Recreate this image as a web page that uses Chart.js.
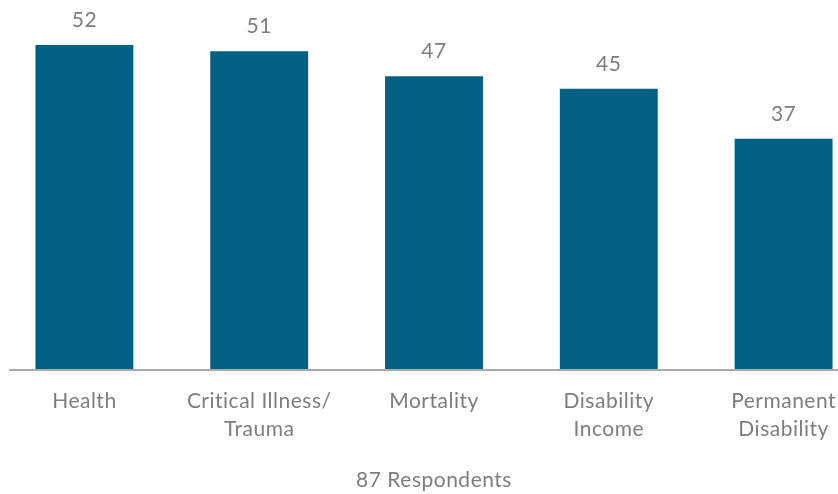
<!DOCTYPE html>
<html>
<head>
<meta charset="utf-8">
<script src="https://cdn.jsdelivr.net/npm/chart.js@4/dist/chart.umd.min.js"></script>
<style>
  html, body { margin: 0; padding: 0; background: #fff; overflow: hidden; }
  #wrap { position: absolute; left: -3px; top: 0; width: 874px; height: 494px; }
</style>
</head>
<body>
<div id="wrap"><canvas id="c"></canvas></div>
<script>
const categories = [["Health"], ["Critical Illness/", "Trauma"], ["Mortality"], ["Disability", "Income"], ["Permanent", "Disability"]];
const values = [52, 51, 47, 45, 37];
const axisTitle = "87 Respondents";

const FONT = "Lato, 'Open Sans', sans-serif";
const TEXT = "#7d7d7d";

const spacingPlugin = {
  id: "spacing",
  beforeInit(chart) { chart.ctx.letterSpacing = "0.5px"; },
  beforeDraw(chart) { chart.ctx.letterSpacing = "0.5px"; }
};

const baselinePlugin = {
  id: "baseline",
  afterDatasetsDraw(chart) {
    const ctx = chart.ctx;
    const y = chart.scales.y.getPixelForValue(0);
    ctx.save();
    ctx.strokeStyle = "#aaaaaa";
    ctx.lineWidth = 2;
    ctx.beginPath();
    ctx.moveTo(12, y);
    ctx.lineTo(chart.width, y);
    ctx.stroke();
    ctx.restore();
  }
};

const valueLabels = {
  id: "valueLabels",
  afterDatasetsDraw(chart) {
    const ctx = chart.ctx;
    const meta = chart.getDatasetMeta(0);
    ctx.save();
    ctx.font = "21px " + FONT;
    ctx.fillStyle = TEXT;
    ctx.textAlign = "center";
    ctx.textBaseline = "middle";
    meta.data.forEach((bar, i) => {
      ctx.fillText(String(chart.data.datasets[0].data[i]), bar.x, bar.y - 25);
    });
    ctx.restore();
  }
};

new Chart(document.getElementById("c"), {
  type: "bar",
  data: {
    labels: categories,
    datasets: [{
      data: values,
      backgroundColor: "#026084",
      borderWidth: 0,
      barPercentage: 0.56,
      categoryPercentage: 1.0
    }]
  },
  options: {
    responsive: true,
    maintainAspectRatio: false,
    animation: false,
    layout: { padding: { top: 45, left: 0, right: 0, bottom: 0 } },
    plugins: {
      legend: { display: false },
      tooltip: { enabled: false },
      title: { display: false }
    },
    scales: {
      x: {
        grid: { display: false, drawTicks: false },
        border: { display: false },
        ticks: {
          color: TEXT,
          font: { family: FONT, size: 21, lineHeight: 1.3 },
          padding: 18,
          maxRotation: 0,
          autoSkip: false
        },
        title: {
          display: true,
          text: axisTitle,
          color: TEXT,
          font: { family: FONT, size: 21, lineHeight: 1.2 },
          padding: { top: 0, bottom: 1 }
        },
        afterFit(scale) { scale.height = 124; }
      },
      y: {
        display: false,
        min: 0,
        max: 52
      }
    }
  },
  plugins: [spacingPlugin, baselinePlugin, valueLabels]
});
</script>
</body>
</html>
